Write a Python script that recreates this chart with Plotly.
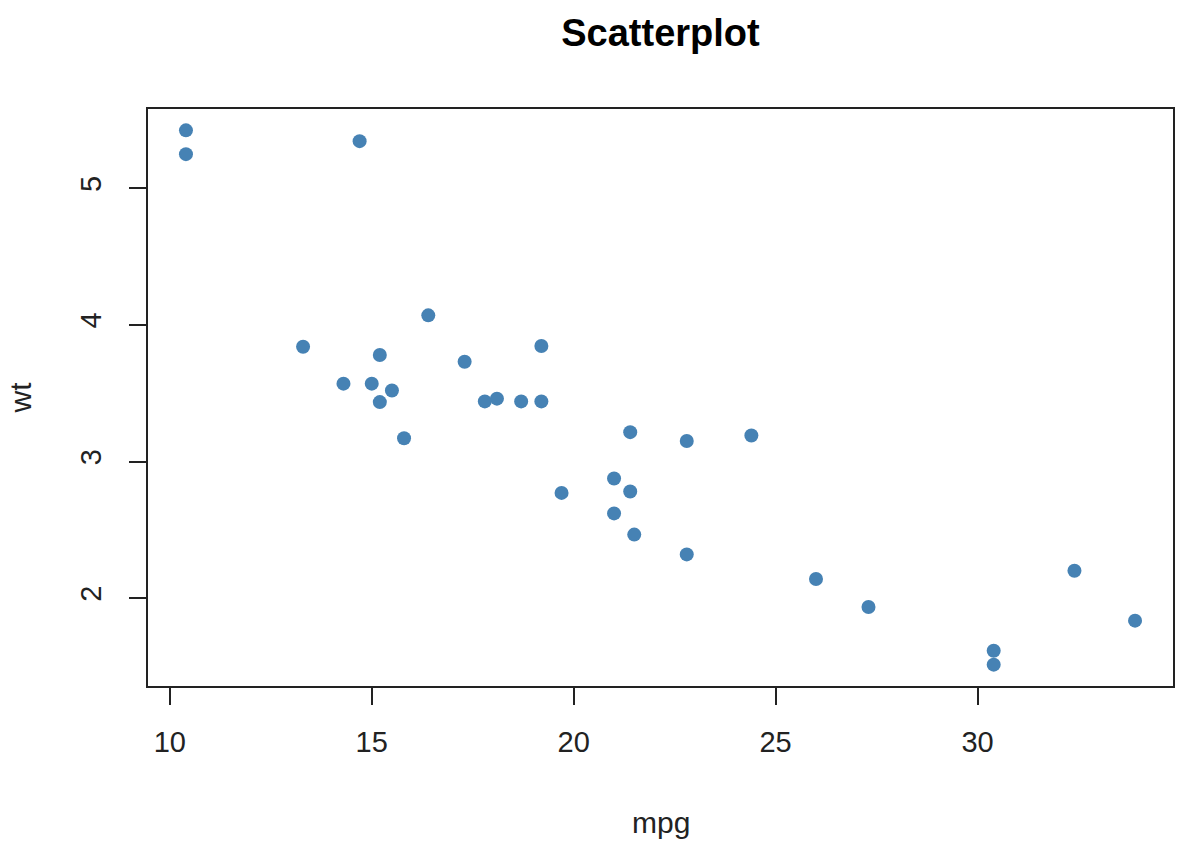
import plotly.graph_objects as go

mpg = [21.0, 21.0, 22.8, 21.4, 18.7, 18.1, 14.3, 24.4, 22.8, 19.2, 17.8, 16.4, 17.3, 15.2,
       10.4, 10.4, 14.7, 32.4, 30.4, 33.9, 21.5, 15.5, 15.2, 13.3, 19.2, 27.3, 26.0, 30.4,
       15.8, 19.7, 15.0, 21.4]
wt = [2.620, 2.875, 2.320, 3.215, 3.440, 3.460, 3.570, 3.190, 3.150, 3.440, 3.440, 4.070,
      3.730, 3.780, 5.250, 5.424, 5.345, 2.200, 1.615, 1.835, 2.465, 3.520, 3.435, 3.840,
      3.845, 1.935, 2.140, 1.513, 3.170, 2.770, 3.570, 2.780]
x_ticks = [10, 15, 20, 25, 30]
y_ticks = [2, 3, 4, 5]

font = "Liberation Sans, Arial, sans-serif"

fig = go.Figure()
fig.add_trace(go.Scatter(
    x=mpg, y=wt, mode="markers",
    marker=dict(size=14, color="#4682B4", line=dict(width=0)),
    hoverinfo="x+y",
))

xmin, xmax = min(mpg), max(mpg)
ymin, ymax = min(wt), max(wt)
xpad = (xmax - xmin) * 0.04
ypad = (ymax - ymin) * 0.04

axis_common = dict(
    showline=True, mirror=True, linecolor="#222", linewidth=2,
    ticks="outside", ticklen=17, tickwidth=2, tickcolor="#222",
    showgrid=False, zeroline=False,
    tickfont=dict(family=font, size=29, color="#222"),
)

fig.update_layout(
    width=1193, height=851,
    margin=dict(l=148, r=20, t=109, b=165),
    plot_bgcolor="white", paper_bgcolor="white",
    showlegend=False,
    title=dict(text="<b>Scatterplot</b>", x=0.5, xref="paper", xanchor="center",
               y=1 - 33 / 851, yref="container", yanchor="middle",
               font=dict(family=font, size=38, color="black")),
    xaxis=dict(range=[xmin - xpad, xmax + xpad], tickvals=x_ticks,
               ticklabelstandoff=12, **axis_common),
    yaxis=dict(range=[ymin - ypad, ymax + ypad], tickvals=y_ticks, tickangle=-90,
               ticklabelstandoff=16, **axis_common),
    annotations=[
        dict(text="mpg", xref="paper", yref="paper", x=0.5, y=0, yshift=-136,
             showarrow=False, yanchor="middle",
             font=dict(family=font, size=30, color="#222")),
        dict(text="wt", xref="paper", yref="paper", x=0, y=0.5, xshift=-128,
             showarrow=False, textangle=-90, xanchor="center",
             font=dict(family=font, size=30, color="#222")),
    ],
)

fig.write_html("out.html")
